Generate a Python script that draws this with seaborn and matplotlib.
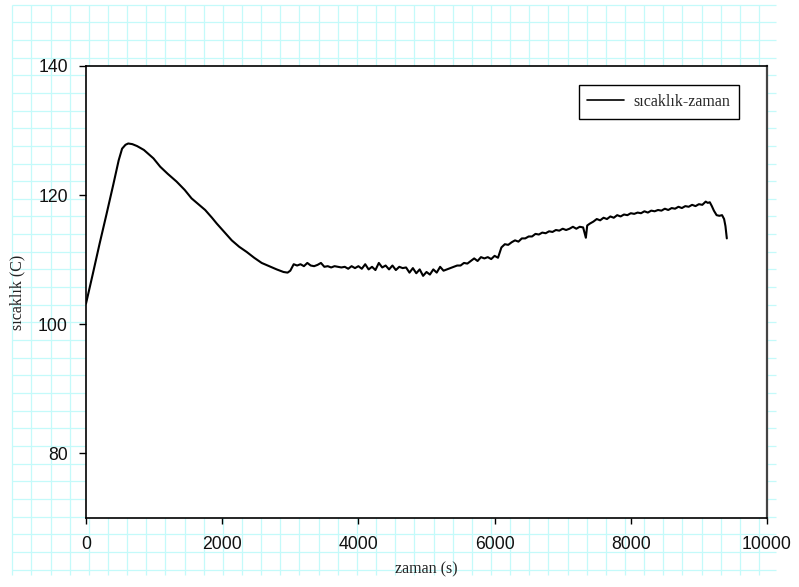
import numpy as np
import pandas as pd
import matplotlib
matplotlib.use("Agg")
import matplotlib.pyplot as plt
import seaborn as sns

# ---- data ----
time_s = [0, 100, 200, 300, 400, 480, 530, 580, 620, 680, 750, 850, 990, 1090,
          1200, 1330, 1450, 1550, 1650, 1750, 1850, 1920, 2030, 2140, 2250, 2360,
          2470, 2580, 2690, 2800, 2900, 2960,
          3000, 3050, 3100, 3150, 3200, 3250, 3300, 3350, 3400, 3450, 3500, 3550,
          3600, 3650, 3700, 3750, 3800, 3850, 3900, 3950, 4000, 4050, 4100, 4150,
          4200, 4250, 4300, 4350, 4400, 4450, 4500, 4550, 4600, 4650, 4700, 4750,
          4800, 4850, 4900, 4950, 5000, 5050, 5100, 5150, 5200, 5250, 5300, 5350,
          5400, 5450, 5500, 5550, 5600, 5650, 5700, 5750, 5800, 5850, 5900, 5950,
          6000, 6050, 6100, 6150, 6200, 6250, 6300, 6350, 6400, 6450, 6500, 6550,
          6600, 6650, 6700, 6750, 6800, 6850, 6900, 6950, 7000, 7050, 7100, 7150,
          7200, 7250, 7300, 7340, 7360, 7400, 7450, 7500, 7550, 7600, 7650, 7700,
          7750, 7800, 7850, 7900, 7950, 8000, 8050, 8100, 8150, 8200, 8250, 8300,
          8350, 8400, 8450, 8500, 8550, 8600, 8650, 8700, 8750, 8800, 8850, 8900,
          8950, 9000, 9050, 9100, 9130, 9160, 9190, 9220, 9260, 9300, 9340, 9370,
          9390, 9410]
temp_c = [103.2, 107.8, 112.5, 117.0, 121.6, 125.4, 127.2, 127.8, 128.0, 127.9,
          127.6, 127.0, 125.7, 124.4, 123.3, 122.1, 120.8, 119.5, 118.6, 117.7,
          116.5, 115.6, 114.3, 113.0, 112.0, 111.2, 110.3, 109.5, 109.0, 108.5,
          108.1, 108.0,
          108.3, 109.3, 109.1, 109.3, 109.0, 109.5, 109.1, 109.0, 109.2, 109.5,
          108.9, 109.0, 108.8, 109.0, 108.9, 108.8, 108.9, 108.6, 109.0, 108.7,
          109.0, 108.6, 109.3, 108.5, 108.9, 108.4, 109.5, 108.8, 109.1, 108.5,
          109.1, 108.4, 108.9, 108.7, 108.8, 108.0, 108.7, 107.9, 108.5, 107.5,
          108.1, 107.7, 108.5, 108.0, 108.9, 108.3, 108.5, 108.7, 108.9, 109.1,
          109.1, 109.5, 109.4, 109.8, 110.2, 109.8, 110.4, 110.2, 110.4, 110.1,
          110.6, 110.3, 111.9, 112.4, 112.3, 112.7, 113.0, 112.8, 113.3, 113.3,
          113.6, 113.6, 114.0, 113.9, 114.2, 114.1, 114.4, 114.3, 114.6, 114.5,
          114.8, 114.6, 114.8, 115.1, 114.8, 115.1, 115.0, 113.4, 115.3, 115.6,
          115.9, 116.3, 116.1, 116.5, 116.3, 116.7, 116.5, 116.9, 116.7, 117.0,
          116.9, 117.2, 117.1, 117.3, 117.2, 117.5, 117.3, 117.6, 117.5, 117.7,
          117.6, 117.9, 117.7, 118.0, 117.9, 118.2, 118.0, 118.3, 118.2, 118.5,
          118.3, 118.6, 118.5, 119.0, 118.8, 118.9, 118.3, 117.6, 116.9, 116.8,
          116.9, 116.3, 115.2, 113.3]
series_name = "sıcaklık-zaman"
x_ticks = [0, 2000, 4000, 6000, 8000, 10000]
y_ticks = [80, 100, 120, 140]

df = pd.DataFrame({"zaman": time_s, "sicaklik": temp_c, "seri": series_name})

sns.set_theme(style="ticks")
plt.rcParams["font.family"] = ["Liberation Sans", "DejaVu Sans"]

W, H = 799, 587
fig = plt.figure(figsize=(W / 100, H / 100), dpi=100)
fig.patch.set_facecolor("white")

# graph-paper background over the whole figure
bg = fig.add_axes([0, 0, 1, 1], zorder=0)
bg.set_xlim(0, W)
bg.set_ylim(H, 0)
bg.axis("off")
gx0, gy0, dx, dy = 12.3, 4.7, 19.146, 17.65
vx = gx0 + dx * np.arange(40)
hy = gy0 + dy * np.arange(33)
grid_c = "#c4fafa"
bg.vlines(vx, gy0, 575, color=grid_c, lw=0.9)
bg.hlines(hy, gx0, 776, color=grid_c, lw=0.9)

ax = fig.add_axes([86 / W, 1 - 518 / H, 681 / W, 452 / H], zorder=2)
ax.set_facecolor("white")

sns.lineplot(data=df, x="zaman", y="sicaklik", hue="seri", palette=["black"],
             linewidth=1.5, ax=ax, sort=False, estimator=None)

ax.set_xlim(0, 10000)
ax.set_ylim(70, 140)
ax.set_xticks(x_ticks)
ax.set_yticks(y_ticks)
ax.tick_params(axis="x", direction="out", length=4.3, width=1.0, pad=8.5,
               labelsize=12.7, color="black", labelcolor="#111111")
ax.tick_params(axis="y", direction="out", length=5.0, width=1.0, pad=8.0,
               labelsize=12.7, color="black", labelcolor="#111111")

for side in ["left", "bottom", "top"]:
    ax.spines[side].set_visible(True)
    ax.spines[side].set_color("black")
    ax.spines[side].set_linewidth(1.2)
ax.spines["right"].set_visible(True)
ax.spines["right"].set_color("#444444")
ax.spines["right"].set_linewidth(1.6)

serif = ["Liberation Serif", "DejaVu Serif"]
ax.set_xlabel("zaman (s)", fontsize=11.5, family=serif, color="#222222")
ax.set_ylabel("sıcaklık (C)", fontsize=11.5, family=serif, color="#222222")
ax.xaxis.set_label_coords(0.5, -0.097)
ax.yaxis.set_label_coords(-0.089, 0.5)

leg = ax.legend(loc="upper right", bbox_to_anchor=(0.9593, 0.958),
                borderaxespad=0, frameon=True, fancybox=False, framealpha=1,
                edgecolor="black", prop={"family": serif, "size": 11.5},
                handlelength=2.3, handletextpad=0.6, borderpad=0.55)
leg.get_frame().set_linewidth(1.0)
for h in leg.get_lines():
    h.set_linewidth(1.2)

fig.savefig("out.png", dpi=100, facecolor="white")
